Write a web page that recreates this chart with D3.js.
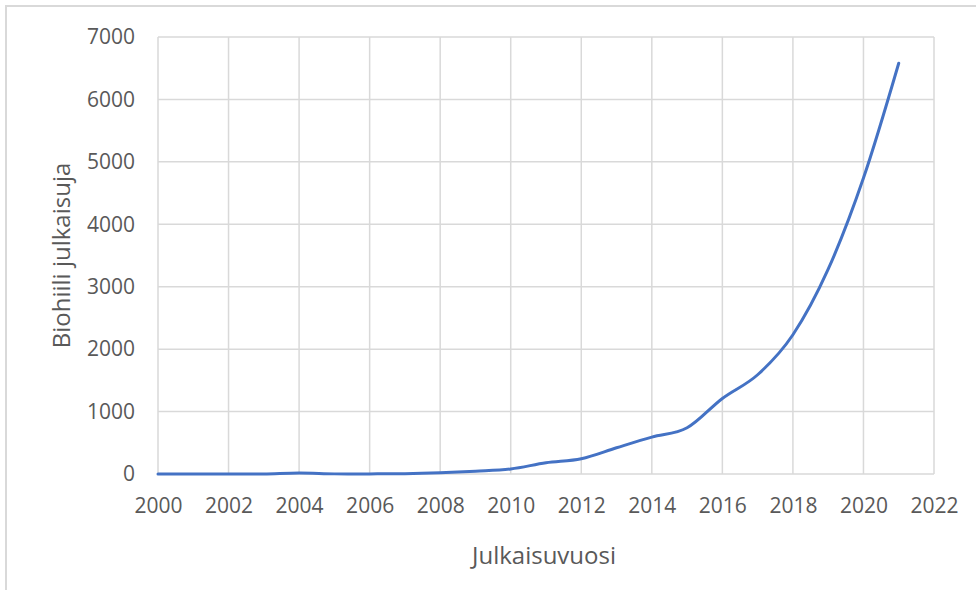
<!DOCTYPE html>
<html>
<head>
<meta charset="utf-8">
<script src="https://cdn.jsdelivr.net/npm/d3@7"></script>
<style>
  html, body { margin: 0; padding: 0; background: #fff; }
  svg { display: block; }
  text { font-family: "Open Sans", "Noto Sans", sans-serif; fill: #595959; }
</style>
</head>
<body>
<svg id="chart" width="976" height="590"></svg>
<script>
// Biochar publications per year
const years = [2000, 2001, 2002, 2003, 2004, 2005, 2006, 2007, 2008, 2009, 2010,
               2011, 2012, 2013, 2014, 2015, 2016, 2017, 2018, 2019, 2020, 2021];
const publications = [0, 0, 0, 0, 15, 2, 2, 5, 20, 45, 80,
                      180, 245, 420, 590, 740, 1210, 1590, 2230, 3280, 4740, 6580];
const xTicks = [2000, 2002, 2004, 2006, 2008, 2010, 2012, 2014, 2016, 2018, 2020, 2022];
const yTicks = [0, 1000, 2000, 3000, 4000, 5000, 6000, 7000];

const svg = d3.select("#chart");
const plot = { left: 158, right: 934, top: 37, bottom: 474 };

// Chart frame
svg.append("path")
  .attr("d", "M6,590 V6 H976")
  .attr("fill", "none")
  .attr("stroke", "#d9d9d9")
  .attr("stroke-width", 2);

const x = d3.scaleLinear().domain([2000, 2022]).range([plot.left, plot.right]);
const y = d3.scaleLinear().domain([0, 7000]).range([plot.bottom, plot.top]);

// Gridlines
const grid = svg.append("g").attr("stroke", "#d9d9d9").attr("stroke-width", 1.5);
grid.selectAll("line.h").data(yTicks).join("line")
  .attr("x1", plot.left).attr("x2", plot.right)
  .attr("y1", d => y(d)).attr("y2", d => y(d));
grid.selectAll("line.v").data(xTicks).join("line")
  .attr("y1", plot.top).attr("y2", plot.bottom)
  .attr("x1", d => x(d)).attr("x2", d => x(d));

// Axes (labels only, lines come from the grid)
const xAxis = svg.append("g")
  .attr("transform", `translate(0,${plot.bottom})`)
  .call(d3.axisBottom(x).tickValues(xTicks).tickFormat(d3.format("d")).tickSize(0).tickPadding(24));
const yAxis = svg.append("g")
  .attr("transform", `translate(${plot.left},0)`)
  .call(d3.axisLeft(y).tickValues(yTicks).tickFormat(d3.format("d")).tickSize(0).tickPadding(23));
[xAxis, yAxis].forEach(a => {
  a.select(".domain").remove();
  a.selectAll("text")
    .attr("font-size", 21)
    .attr("fill", "#595959")
    .attr("font-family", "'Open Sans', 'Noto Sans', sans-serif");
});

// Axis titles
svg.append("text")
  .attr("x", 544)
  .attr("y", 564)
  .attr("text-anchor", "middle")
  .attr("font-size", 24)
  .text("Julkaisuvuosi");
svg.append("text")
  .attr("transform", `translate(70,${(plot.top + plot.bottom) / 2}) rotate(-90)`)
  .attr("text-anchor", "middle")
  .attr("font-size", 24)
  .text("Biohiili julkaisuja");

// Smoothed series line
const line = d3.line()
  .x((d, i) => x(years[i]))
  .y(d => y(d))
  .curve(d3.curveCatmullRom.alpha(0));
svg.append("path")
  .datum(publications)
  .attr("d", line)
  .attr("fill", "none")
  .attr("stroke", "#4472c4")
  .attr("stroke-width", 3)
  .attr("stroke-linecap", "round");
</script>
</body>
</html>
